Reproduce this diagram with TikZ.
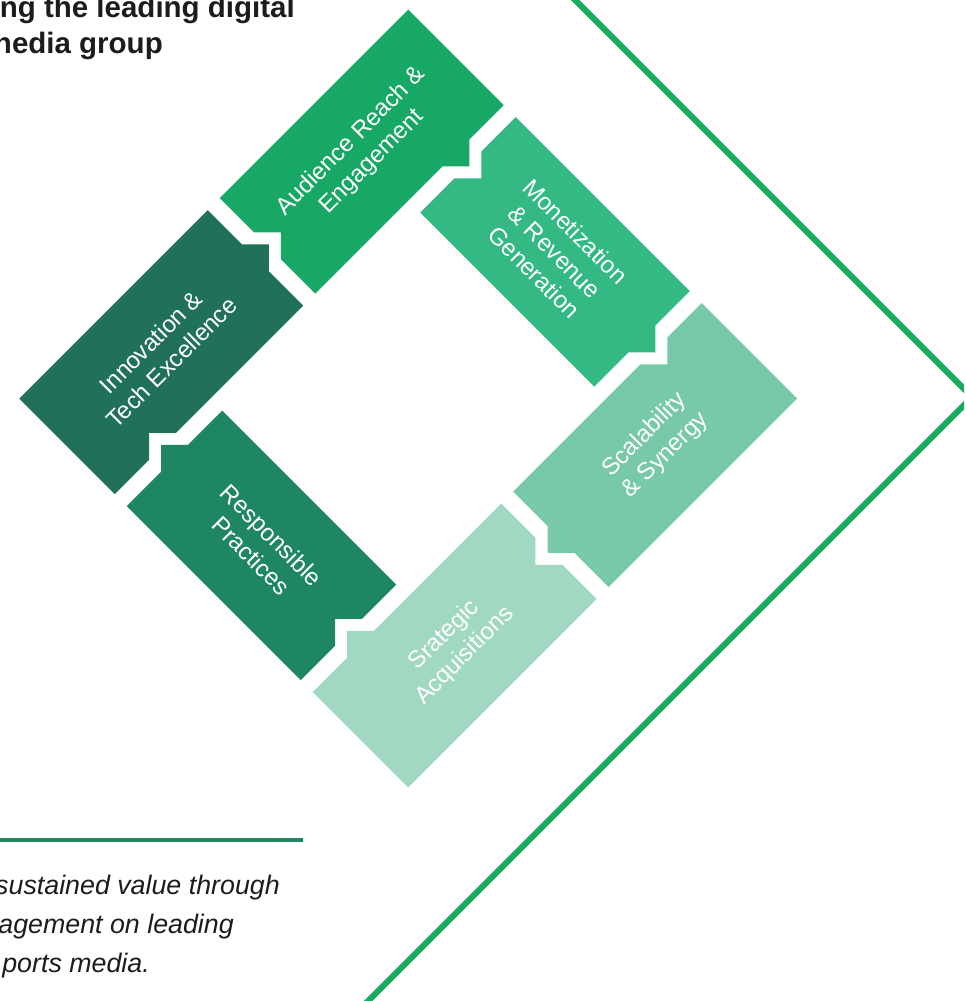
\documentclass[tikz,border=0pt]{standalone}
\usepackage{fontspec}
\setmainfont{Liberation Sans}
\definecolor{cInn}{HTML}{21705A}
\definecolor{cAud}{HTML}{18A866}
\definecolor{cMon}{HTML}{34B984}
\definecolor{cSca}{HTML}{77C9A7}
\definecolor{cStr}{HTML}{A1D8C2}
\definecolor{cRes}{HTML}{1E8660}
\definecolor{cChev}{HTML}{19AA60}
\definecolor{cRule}{HTML}{22895F}
\definecolor{cText}{HTML}{1C1C1C}
\begin{document}
\begin{tikzpicture}[x=1pt,y=1pt,
  lbl/.style={text=white, font=\fontsize{24}{29}\selectfont, align=center, transform shape, inner sep=0pt},
  title/.style={text=cText, font=\fontsize{29.5}{35}\selectfont\bfseries, inner sep=0pt, anchor=base east},
  quote/.style={text=cText, font=\fontsize{26.8}{32}\selectfont\itshape, inner sep=0pt, anchor=base east},
  chev/.style={draw=cChev, line width=6pt},
  rule/.style={draw=cRule, line width=3.5pt}]
\clip (0,0) rectangle (964,-1001);
\fill[white] (0,0) rectangle (964,-1001);
\begin{scope}[shift={(408.2,-398.6)}, rotate=45]
 % Innovation
 \fill[cInn] (-275,140) -- (-226.5,140) -- (-207.5,159) -- (-188.5,140) -- (-8.5,140) -- (-8.5,188.5) -- (10.5,207.5) -- (-8.5,226.5) -- (-8.5,275) -- (-275,275) -- cycle;
 % Audience
 \fill[cAud] (8.5,140) -- (188.5,140) -- (207.5,121) -- (226.5,140) -- (275,140) -- (275,275) -- (8.5,275) -- (8.5,226.5) -- (27.5,207.5) -- (8.5,188.5) -- cycle;
 % Monetization
 \fill[cMon] (140,-123) -- (188.5,-123) -- (207.5,-142) -- (226.5,-123) -- (275,-123) -- (275,123) -- (226.5,123) -- (207.5,104) -- (188.5,123) -- (140,123) -- cycle;
 % Scalability
 \fill[cSca] (8.5,-275) -- (275,-275) -- (275,-140) -- (226.5,-140) -- (207.5,-159) -- (188.5,-140) -- (8.5,-140) -- (8.5,-188.5) -- (-10.5,-207.5) -- (8.5,-226.5) -- cycle;
 % Strategic
 \fill[cStr] (-275,-275) -- (-8.5,-275) -- (-8.5,-226.5) -- (-27.5,-207.5) -- (-8.5,-188.5) -- (-8.5,-140) -- (-188.5,-140) -- (-207.5,-121) -- (-226.5,-140) -- (-275,-140) -- cycle;
 % Responsible
 \fill[cRes] (-275,-123) -- (-226.5,-123) -- (-207.5,-104) -- (-188.5,-123) -- (-140,-123) -- (-140,123) -- (-188.5,123) -- (-207.5,142) -- (-226.5,123) -- (-275,123) -- cycle;
 \node[lbl] (tInn) at (-141.75,207.5) {Innovation \&\\Tech Excellence};
 \node[lbl] (tAud) at (141.75,207.5) {Audience Reach \&\\Engagement};
 \node[lbl, rotate=-90] (tMon) at (207.5,0) {Monetization\\\& Revenue\\Generation};
 \node[lbl] (tSca) at (141.75,-207.5) {Scalability\\\& Synergy};
 \node[lbl] (tStr) at (-141.75,-207.5) {Srategic\\Acquisitions};
 \node[lbl, rotate=-90] (tRes) at (-207.5,0) {Responsible\\Practices};
\end{scope}
\coordinate (cA) at (565,10);
\coordinate (cB) at (972,-397);
\coordinate (cC) at (358,-1011);
\draw[chev] (cA) -- (cB) -- (cC);
\coordinate (rA) at (-5,-840);
\coordinate (rB) at (303,-840);
\draw[rule] (rA) -- (rB);
\node[title] (t1) at (295,-17) {ng the leading digital};
\node[title] (t2) at (163,-53) {nedia group};
\node[quote] (q1) at (280,-894) {sustained value through};
\node[quote] (q2) at (234,-933) {agement on leading};
\node[quote] (q3) at (150,-972) {ports media.};
\end{tikzpicture}
\end{document}
